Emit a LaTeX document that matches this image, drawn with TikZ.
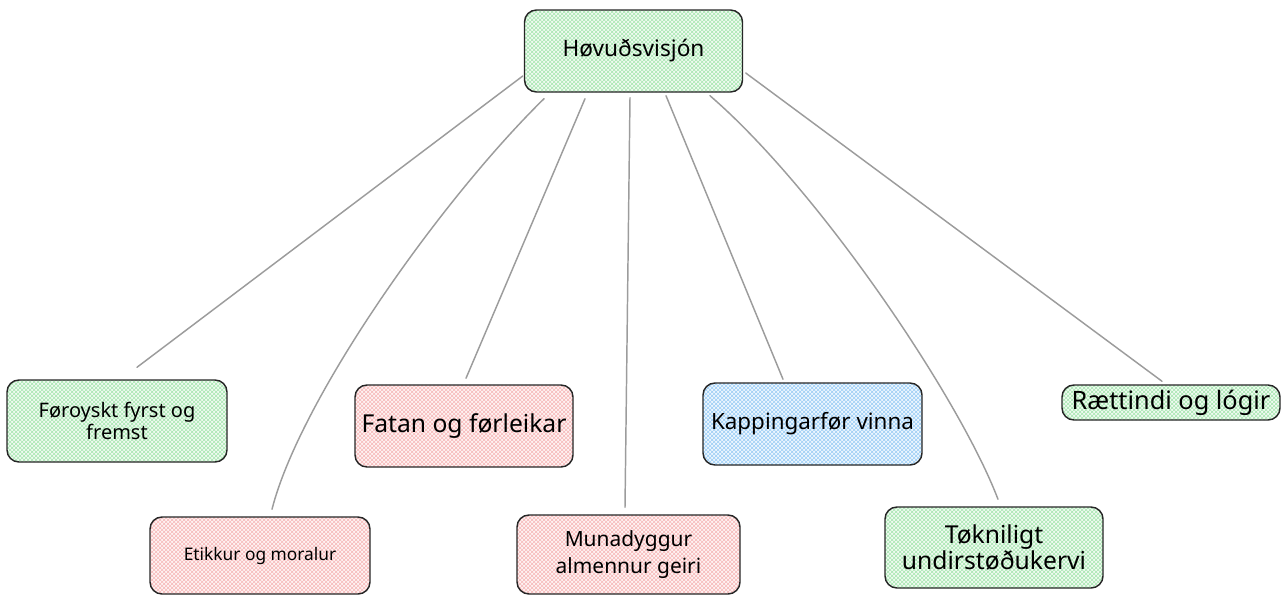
\documentclass[tikz,border=0pt]{standalone}
\usepackage{fontspec}
\setmainfont{Noto Sans}
\usetikzlibrary{patterns,calc}
\definecolor{gbg}{HTML}{F1FBF2}
\definecolor{ghatch}{HTML}{A6E6B0}
\definecolor{rbg}{HTML}{FFF3F3}
\definecolor{rhatch}{HTML}{F6B8B8}
\definecolor{bbg}{HTML}{EEF7FF}
\definecolor{bhatch}{HTML}{9ACDF5}
\definecolor{edgegray}{HTML}{9C9C9C}
\begin{document}
\begin{tikzpicture}[x=0.75pt,y=-0.75pt,
  box/.style={draw=black!85, line width=1.1pt, rounded corners=9pt, align=center, inner sep=0pt},
  greenbox/.style={box, preaction={fill=gbg}, pattern=crosshatch, pattern color=ghatch},
  redbox/.style={box, preaction={fill=rbg}, pattern=crosshatch, pattern color=rhatch},
  bluebox/.style={box, preaction={fill=bbg}, pattern=crosshatch, pattern color=bhatch},
  link/.style={draw=edgegray, line width=1.1pt, line cap=round}]
\useasboundingbox (0,0) rectangle (1282,596);

\node[greenbox, minimum width=163.5pt, minimum height=61.5pt, font=\fontsize{17}{20}\selectfont] (main) at (633.5,51) {Høvuðsvisjón};
\node[greenbox, minimum width=165pt, minimum height=61.5pt, font=\fontsize{15}{16.5}\selectfont] (foroyskt) at (117,421) {Føroyskt fyrst og\\fremst};
\node[redbox, minimum width=165pt, minimum height=57.75pt, font=\fontsize{13}{16}\selectfont] (etikkur) at (260,555.5) {Etikkur og moralur};
\node[redbox, minimum width=163.5pt, minimum height=61.5pt, font=\fontsize{18.5}{22}\selectfont] (fatan) at (464,426) {Fatan og førleikar};
\node[redbox, minimum width=167.25pt, minimum height=59.25pt, font=\fontsize{15.7}{20}\selectfont] (muna) at (628.5,554.5) {Munadyggur\\almennur geiri};
\node[bluebox, minimum width=164.25pt, minimum height=61.5pt, font=\fontsize{16.8}{20}\selectfont] (kapp) at (812.5,424) {Kappingarfør vinna};
\node[greenbox, minimum width=163.5pt, minimum height=60.75pt, font=\fontsize{18.5}{19}\selectfont] (tokn) at (994,547.5) {Tøkniligt\\undirstøðukervi};
\node[greenbox, minimum width=163.5pt, minimum height=26.25pt, font=\fontsize{19}{20}\selectfont] (rett) at (1171,402.5) {Rættindi og lógir};

\draw[link] ($(main.west)+(-1,25)$) -- ($(foroyskt.north)+(20,-12)$);
\draw[link] ($(main.south)+(-89.5,6)$) .. controls +(-104,102) and +(28,-110) .. ($(etikkur.north)+(12,-7)$);
\draw[link] ($(main.south)+(-48.5,6)$) -- ($(fatan.north)+(2,-6)$);
\draw[link] ($(main.south)+(-3.5,5)$) -- ($(muna.north)+(-3.5,-7)$);
\draw[link] ($(main.south)+(32.5,3)$) -- ($(kapp.north)+(-29.5,-3)$);
\draw[link] ($(main.south)+(76.5,3)$) .. controls +(110,95) and +(-38,-100) .. ($(tokn.north)+(4,-7)$);
\draw[link] ($(main.east)+(2.5,22)$) -- ($(rett.north)+(-9,-3)$);
\end{tikzpicture}
\end{document}
